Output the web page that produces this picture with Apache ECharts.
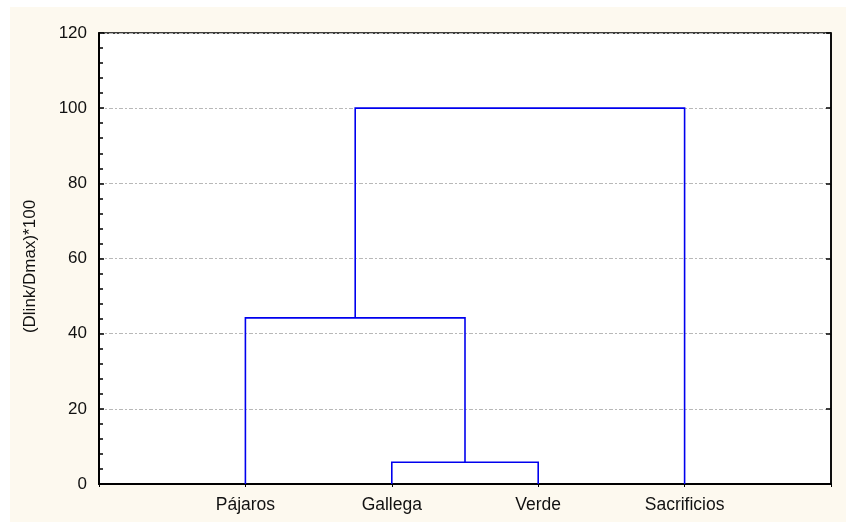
<!DOCTYPE html>
<html>
<head>
<meta charset="utf-8">
<script src="https://cdn.jsdelivr.net/npm/echarts@6/dist/echarts.min.js"></script>
<style>
  html, body { margin: 0; padding: 0; background: #fff; }
  #chart { width: 846px; height: 522px; }
</style>
</head>
<body>
<div id="chart"></div>
<script>
  // leaves, in plotting order (x = 1..4)
  var leaves = ['Pájaros', 'Gallega', 'Verde', 'Sacrificios'];
  // merges: [left node, right node, height]; nodes 0..3 are leaves, 4.. are merges
  var mergeLeft = [1, 0, 5];
  var mergeRight = [2, 4, 3];
  var mergeHeight = [5.8, 44.2, 100];
  var yTicks = [0, 20, 40, 60, 80, 100, 120];

  // node positions
  var nodeX = leaves.map(function (l, i) { return i + 1; });
  var nodeY = leaves.map(function () { return 0; });
  var links = [];
  for (var m = 0; m < mergeHeight.length; m++) {
    var a = mergeLeft[m], b = mergeRight[m], h = mergeHeight[m];
    links.push({
      coords: [[nodeX[a], nodeY[a]], [nodeX[a], h], [nodeX[b], h], [nodeX[b], nodeY[b]]]
    });
    nodeX.push((nodeX[a] + nodeX[b]) / 2);
    nodeY.push(h);
  }

  var font = 'Liberation Sans, Arial, sans-serif';
  var myChart = echarts.init(document.getElementById('chart'));
  var option = {
    backgroundColor: '#ffffff',
    animation: false,
    graphic: [{
      type: 'rect',
      z: -100,
      shape: { x: 10, y: 7, width: 836, height: 515 },
      style: { fill: '#fdf9ef' }
    }],
    grid: {
      left: 99, right: 15, top: 33, bottom: 38,
      show: true,
      backgroundColor: '#ffffff',
      borderColor: '#000',
      borderWidth: 1.5
    },
    xAxis: {
      type: 'value',
      min: 0, max: leaves.length + 1, interval: 1,
      axisLine: { show: true, onZero: false, lineStyle: { color: '#000', width: 2 } },
      axisTick: { show: true, length: 3, lineStyle: { color: '#000', width: 1 } },
      splitLine: { show: false },
      axisLabel: {
        color: '#111', fontSize: 17.5, fontFamily: font, margin: 12,
        formatter: function (v) { return leaves[v - 1] || ''; }
      }
    },
    yAxis: [{
      type: 'value',
      min: yTicks[0], max: yTicks[yTicks.length - 1], interval: 20,
      name: '(Dlink/Dmax)*100',
      nameLocation: 'middle', nameGap: 60, nameRotate: 90,
      nameTextStyle: { color: '#111', fontSize: 17, fontFamily: font, padding: [0, 16, 0, 0] },
      axisLine: { show: true, lineStyle: { color: '#000', width: 2 } },
      axisTick: { show: true, inside: true, length: 5, lineStyle: { color: '#000', width: 1.5 } },
      minorTick: { show: true, splitNumber: 5, length: 4, lineStyle: { color: '#000', width: 1.5 } },
      axisLabel: { color: '#111', fontSize: 17, fontFamily: font, margin: 12 },
      splitLine: {
        show: true,
        lineStyle: { color: '#b8b8b8', type: [4, 2, 2, 2], width: 1 }
      }
    }, {
      type: 'value',
      position: 'right',
      min: yTicks[0], max: yTicks[yTicks.length - 1], interval: 20,
      axisLine: { show: true, lineStyle: { color: '#000', width: 1.5 } },
      axisTick: { show: true, inside: true, length: 5, lineStyle: { color: '#000', width: 1.5 } },
      axisLabel: { show: false },
      splitLine: { show: false }
    }],
    series: [{
      type: 'lines',
      coordinateSystem: 'cartesian2d',
      polyline: true,
      lineStyle: { color: '#0000ee', width: 1.6, opacity: 1 },
      data: links
    }]
  };
  myChart.setOption(option);
</script>
</body>
</html>
